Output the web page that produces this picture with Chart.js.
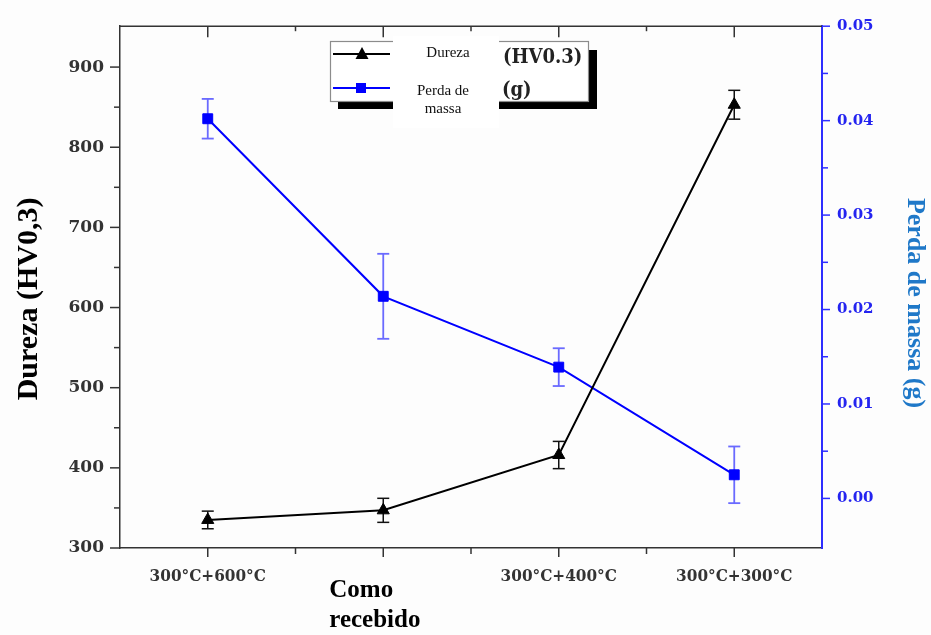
<!DOCTYPE html>
<html>
<head>
<meta charset="utf-8">
<script src="https://cdn.jsdelivr.net/npm/chart.js@4/dist/chart.umd.min.js"></script>
<style>
  html, body { margin: 0; padding: 0; background: #fdfdfd; }
  canvas { display: block; }
</style>
</head>
<body>
<canvas id="chart" width="931" height="635"></canvas>
<script>
// Treatments along the x axis
const categories = ['300°C+600°C', 'Como recebido', '300°C+400°C', '300°C+300°C'];

// Hardness (HV0.3) with standard deviation
const dureza = [335, 347, 416, 853];
const durezaErr = [11, 15, 17, 18];

// Mass loss (g) with standard deviation
const perda = [0.0402, 0.0214, 0.0139, 0.0025];
const perdaErr = [0.0021, 0.0045, 0.0020, 0.0030];

// Labelled ticks of both value axes
const durezaTicks = [300, 400, 500, 600, 700, 800, 900];
const perdaTicks = [0.00, 0.01, 0.02, 0.03, 0.04, 0.05];

const SERIF = '"Liberation Serif", "Times New Roman", serif';
const TICK_SERIF = '"DejaVu Serif", serif';
const COND_SERIF = '"DejaVu Serif Condensed", "DejaVu Serif", serif';

const BLACK = '#000000';
const AXIS_GRAY = '#333333';
const BLUE = '#0000ff';
const BLUE_AXIS = '#2e2eff';
const BLUE_ERR = '#6a6aff';
const BLUE_TITLE = '#1f78c8';

function midpoints(list) {
  const out = [];
  for (let i = 0; i < list.length - 1; i++) out.push((list[i] + list[i + 1]) / 2);
  return out;
}

function line(ctx, x1, y1, x2, y2) {
  ctx.beginPath();
  ctx.moveTo(x1, y1);
  ctx.lineTo(x2, y2);
  ctx.stroke();
}

const decorations = {
  id: 'decorations',
  beforeDraw(chart) {
    const ctx = chart.ctx;
    ctx.save();
    ctx.fillStyle = '#fdfdfd';
    ctx.fillRect(0, 0, chart.width, chart.height);
    ctx.restore();
  },
  beforeDatasetsDraw(chart) {
    // error bars with caps
    const ctx = chart.ctx;
    const sets = [
      { idx: 0, err: durezaErr, vals: dureza, color: '#111111', width: 1.5 },
      { idx: 1, err: perdaErr, vals: perda, color: BLUE_ERR, width: 1.8 }
    ];
    ctx.save();
    sets.forEach(s => {
      const meta = chart.getDatasetMeta(s.idx);
      const scale = chart.scales[meta.yAxisID];
      ctx.strokeStyle = s.color;
      ctx.lineWidth = s.width;
      meta.data.forEach((pt, j) => {
        const yt = scale.getPixelForValue(s.vals[j] + s.err[j]);
        const yb = scale.getPixelForValue(s.vals[j] - s.err[j]);
        line(ctx, pt.x, yt, pt.x, yb);
        line(ctx, pt.x - 6, yt, pt.x + 6, yt);
        line(ctx, pt.x - 6, yb, pt.x + 6, yb);
      });
    });
    ctx.restore();
  },
  afterDraw(chart) {
    const ctx = chart.ctx;
    const area = chart.chartArea;
    const xs = chart.scales.x;
    const yl = chart.scales.y;
    const yr = chart.scales.y1;
    ctx.save();

    // top frame line
    ctx.strokeStyle = AXIS_GRAY;
    ctx.lineWidth = 1.5;
    line(ctx, area.left - 1, area.top, area.right, area.top);

    // left axis ticks (major + minor, outward)
    ctx.strokeStyle = AXIS_GRAY;
    ctx.lineWidth = 1.5;
    durezaTicks.forEach(v => {
      const y = yl.getPixelForValue(v);
      line(ctx, area.left - 10, y, area.left, y);
    });
    midpoints(durezaTicks).forEach(v => {
      const y = yl.getPixelForValue(v);
      line(ctx, area.left - 6, y, area.left, y);
    });

    // right axis ticks (blue, outward)
    ctx.strokeStyle = BLUE_AXIS;
    ctx.lineWidth = 1.5;
    perdaTicks.forEach(v => {
      const y = yr.getPixelForValue(v);
      line(ctx, area.right, y, area.right + 8, y);
    });
    midpoints(perdaTicks).forEach(v => {
      const y = yr.getPixelForValue(v);
      line(ctx, area.right, y, area.right + 6, y);
    });

    // category ticks on bottom (outward) and top (inward)
    ctx.strokeStyle = AXIS_GRAY;
    ctx.lineWidth = 1.5;
    const centers = categories.map((c, i) => xs.getPixelForValue(i));
    centers.forEach(x => {
      line(ctx, x, area.bottom, x, area.bottom + 9);
      line(ctx, x, area.top, x, area.top + 11);
    });
    midpoints(centers).forEach(x => {
      line(ctx, x, area.bottom, x, area.bottom + 6);
      line(ctx, x, area.top, x, area.top + 5);
    });

    // category labels
    categories.forEach((c, i) => {
      const x = centers[i];
      if (c.indexOf('°') >= 0) {
        ctx.font = 'bold 17px ' + COND_SERIF;
        ctx.fillStyle = AXIS_GRAY;
        ctx.textAlign = 'center';
        ctx.textBaseline = 'middle';
        ctx.fillText(c, x, 577);
      } else {
        ctx.font = 'bold 25px ' + SERIF;
        ctx.fillStyle = BLACK;
        ctx.textAlign = 'left';
        ctx.textBaseline = 'middle';
        c.split(' ').forEach((w, k) => ctx.fillText(w, x - 54, 591 + k * 30));
      }
    });

    // axis titles
    ctx.textAlign = 'center';
    ctx.textBaseline = 'middle';
    ctx.font = 'bold 30px ' + SERIF;
    ctx.fillStyle = BLACK;
    ctx.save();
    ctx.translate(29, 299);
    ctx.rotate(-Math.PI / 2);
    ctx.fillText('Dureza (HV0,3)', 0, 0);
    ctx.restore();
    ctx.font = 'bold 26px ' + SERIF;
    ctx.fillStyle = BLUE_TITLE;
    ctx.save();
    ctx.translate(915, 303);
    ctx.rotate(Math.PI / 2);
    ctx.fillText('Perda de massa (g)', 0, 0);
    ctx.restore();

    // legend box with drop shadow
    ctx.fillStyle = '#000000';
    ctx.fillRect(338, 50, 259, 59);
    ctx.fillStyle = '#ffffff';
    ctx.fillRect(330, 41, 259, 61);
    ctx.strokeStyle = '#8c8c8c';
    ctx.lineWidth = 1.2;
    ctx.strokeRect(330.5, 41.5, 258, 60);

    ctx.strokeStyle = BLACK;
    ctx.lineWidth = 2;
    line(ctx, 333, 54, 390, 54);
    ctx.fillStyle = BLACK;
    ctx.beginPath();
    ctx.moveTo(362, 47); ctx.lineTo(368.5, 59); ctx.lineTo(355.5, 59); ctx.closePath();
    ctx.fill();

    ctx.strokeStyle = BLUE;
    ctx.lineWidth = 2;
    line(ctx, 333, 88, 390, 88);
    ctx.fillStyle = BLUE;
    ctx.fillRect(356, 83, 10, 10);

    // white label panel over the legend
    ctx.fillStyle = '#ffffff';
    ctx.fillRect(393, 36, 106, 92);
    ctx.fillStyle = '#111111';
    ctx.font = '15px ' + SERIF;
    ctx.textAlign = 'center';
    ctx.textBaseline = 'middle';
    ctx.fillText('Dureza', 448, 53);
    ctx.fillText('Perda de', 443, 91);
    ctx.fillText('massa', 443, 109);

    ctx.font = 'bold 20px ' + COND_SERIF;
    ctx.textAlign = 'left';
    ctx.fillStyle = '#222222';
    ctx.fillText('(HV0.3)', 503, 58);
    ctx.fillText('(g)', 502, 91);

    ctx.restore();
  }
};

new Chart(document.getElementById('chart'), {
  type: 'line',
  data: {
    labels: categories,
    datasets: [
      {
        label: 'Dureza (HV0.3)',
        data: dureza,
        yAxisID: 'y',
        borderColor: BLACK,
        backgroundColor: BLACK,
        borderWidth: 2,
        pointStyle: 'triangle',
        pointRadius: 7,
        pointBorderWidth: 1,
        tension: 0
      },
      {
        label: 'Perda de massa (g)',
        data: perda,
        yAxisID: 'y1',
        borderColor: BLUE,
        backgroundColor: BLUE,
        borderWidth: 2,
        pointStyle: 'rect',
        pointRadius: 7,
        pointBorderWidth: 1,
        tension: 0
      }
    ]
  },
  options: {
    responsive: false,
    animation: false,
    devicePixelRatio: 1,
    layout: { padding: { top: 22, left: 0, right: 0, bottom: 0 } },
    plugins: { legend: { display: false }, tooltip: { enabled: false } },
    scales: {
      x: {
        type: 'category',
        offset: true,
        grid: { display: false, drawTicks: false },
        border: { display: true, color: AXIS_GRAY, width: 1.5 },
        ticks: { display: false },
        afterFit: s => { s.height = 87; }
      },
      y: {
        position: 'left',
        min: 300,
        max: 951,
        grid: { display: false, drawTicks: false },
        border: { display: true, color: AXIS_GRAY, width: 1.5 },
        afterBuildTicks: s => { s.ticks = durezaTicks.map(v => ({ value: v })); },
        ticks: {
          padding: 16,
          color: AXIS_GRAY,
          font: { family: TICK_SERIF, size: 17, weight: 'bold' },
          callback: v => String(v)
        },
        afterFit: s => { s.width = 120; }
      },
      y1: {
        position: 'right',
        min: -0.00525,
        max: 0.05,
        grid: { display: false, drawTicks: false },
        border: { display: true, color: BLUE_AXIS, width: 2 },
        afterBuildTicks: s => { s.ticks = perdaTicks.map(v => ({ value: v })); },
        ticks: {
          padding: 15,
          color: '#2424f0',
          font: { family: TICK_SERIF, size: 15, weight: 'bold' },
          callback: v => Number(v).toFixed(2)
        },
        afterFit: s => { s.width = 109; }
      }
    }
  },
  plugins: [decorations]
});
</script>
</body>
</html>
